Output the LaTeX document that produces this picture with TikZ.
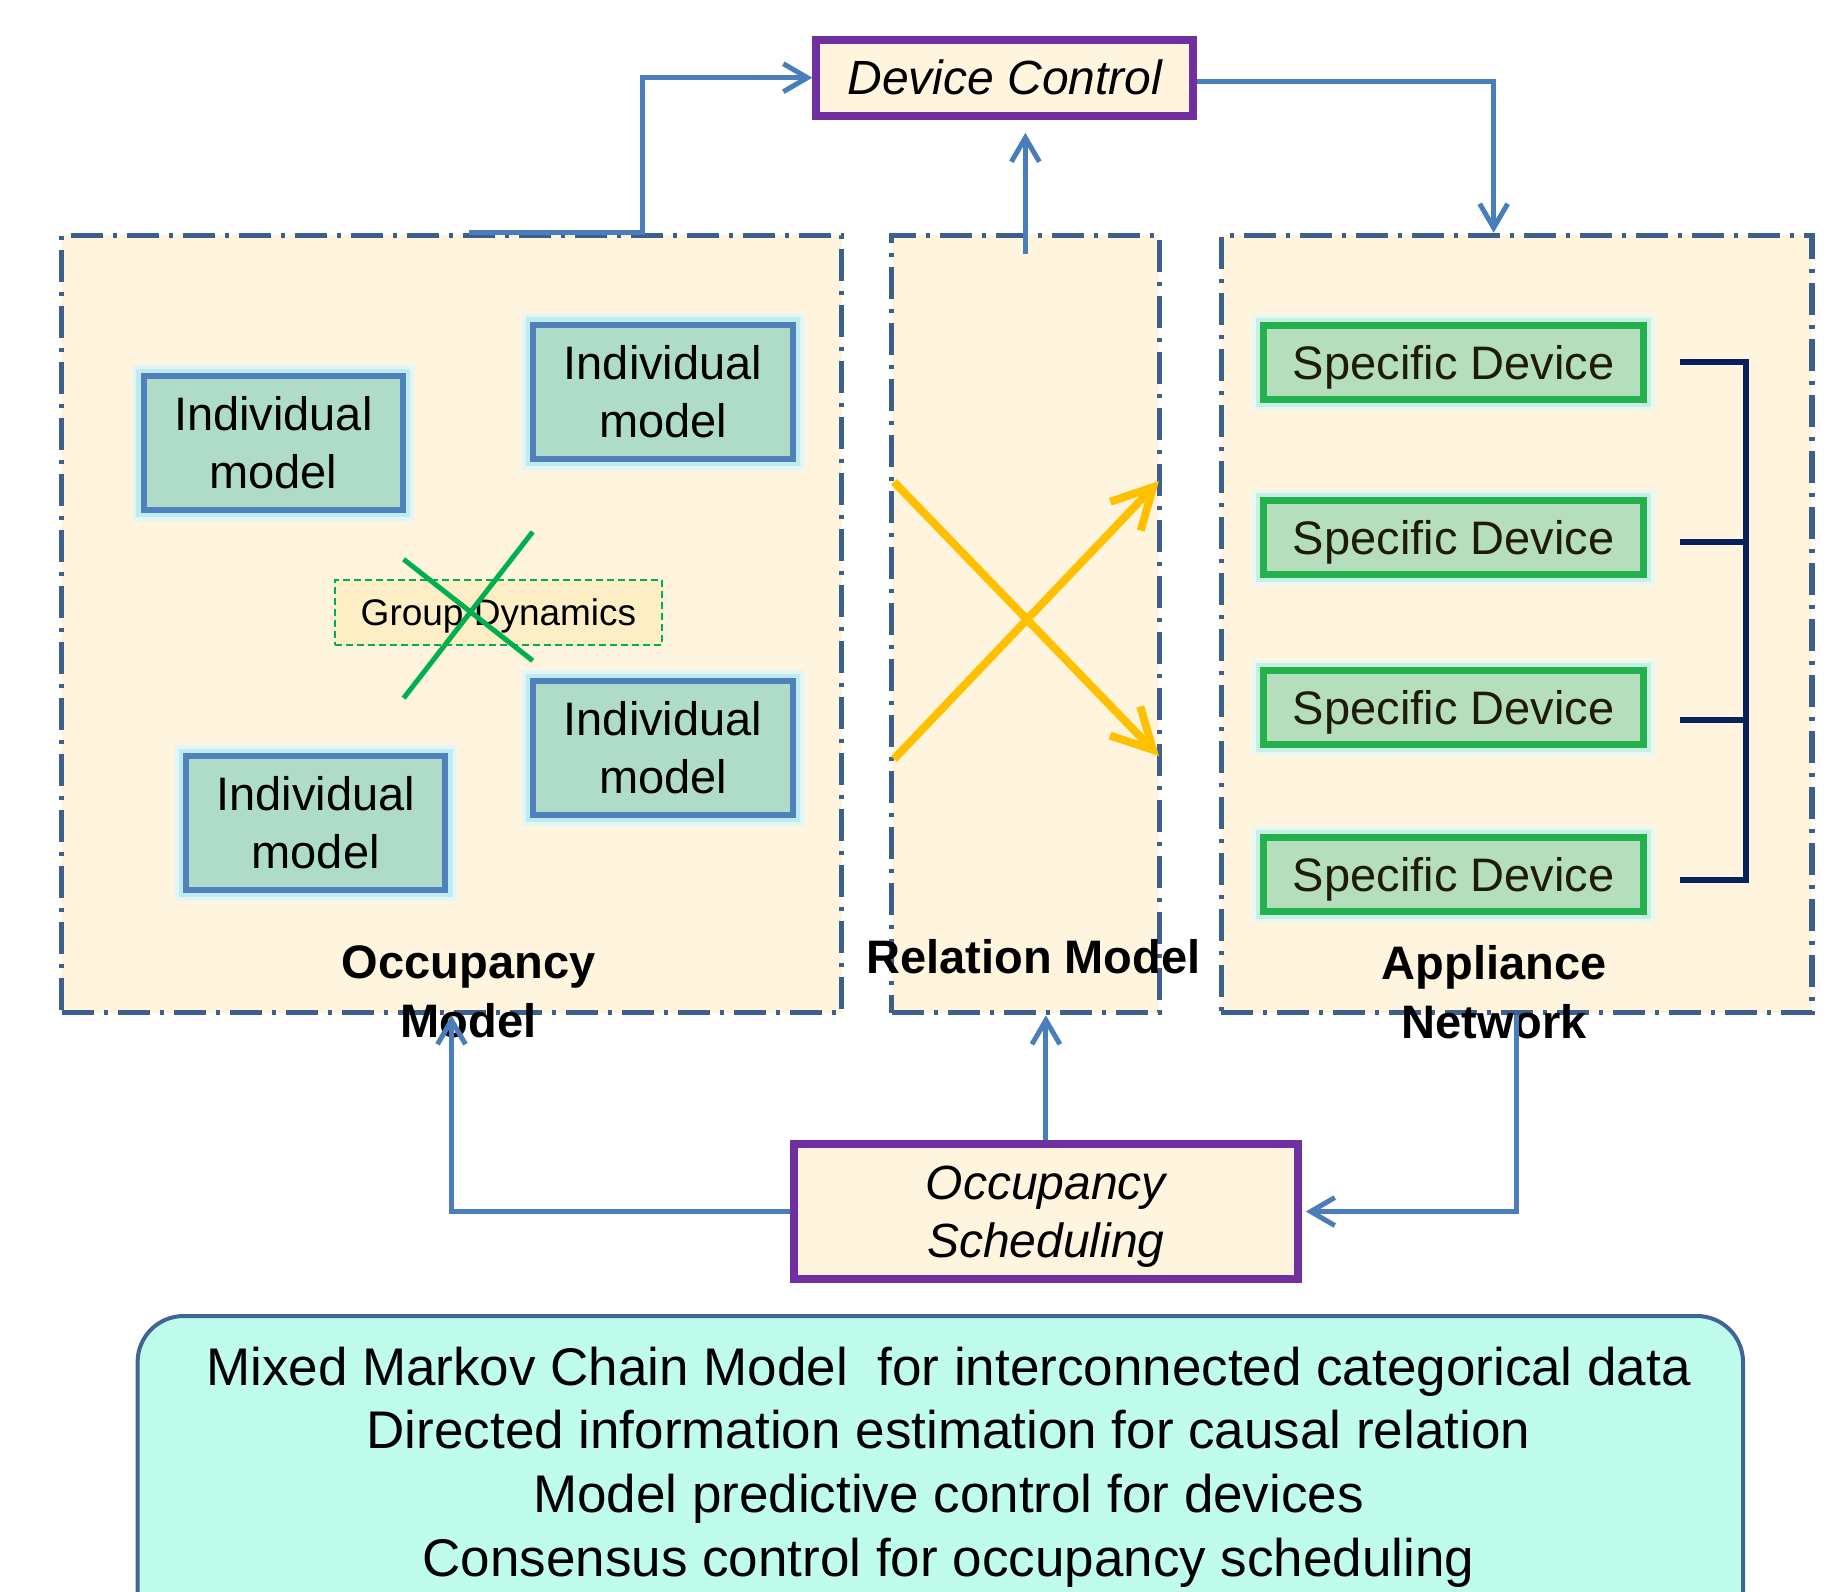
\documentclass[tikz,border=0pt]{standalone}
\usepackage{fontspec}
\setmainfont{Liberation Sans}
\usetikzlibrary{arrows.meta,calc}

\definecolor{cream}{HTML}{FFF5DF}
\definecolor{frameblue}{HTML}{3D5F8C}
\definecolor{imfill}{HTML}{AEDCC9}
\definecolor{imborder}{HTML}{4F81BD}
\definecolor{glowc}{HTML}{BFECF0}
\definecolor{sdglow}{HTML}{C8EFE2}
\definecolor{sdfill}{HTML}{B5DEBD}
\definecolor{sdborder}{HTML}{22B14C}
\definecolor{purp}{HTML}{7030A0}
\definecolor{arrowblue}{HTML}{4A7EBB}
\definecolor{yell}{HTML}{FFC000}
\definecolor{xgreen}{HTML}{00B050}
\definecolor{navy}{HTML}{0A205E}
\definecolor{gdfill}{HTML}{FDEEC6}
\definecolor{mint}{HTML}{C0FCEB}
\definecolor{mintborder}{HTML}{3F6495}
\definecolor{sdtext}{HTML}{1E1A0C}

\tikzset{
  frame/.style={draw=frameblue, line width=2.6pt, fill=cream,
    dash pattern=on 16pt off 5pt on 2pt off 5pt, inner sep=0pt,
    minimum height=388.7pt},
  imbox/.style={draw=imborder, fill=imfill, line width=3pt,
    minimum width=129.6pt, minimum height=66.8pt, inner sep=0pt, align=center,
    font=\fontsize{23.5pt}{29pt}\selectfont,
    preaction={draw=glowc!45, line width=11pt},
    preaction={draw=glowc, line width=7.5pt}},
  sdbox/.style={draw=sdborder, fill=sdfill, line width=3.5pt,
    minimum width=190.3pt, minimum height=36.8pt, inner sep=0pt,
    font=\fontsize{23.5pt}{28pt}\selectfont, text=sdtext,
    text height=16.8pt, text depth=0pt,
    preaction={draw=sdglow!45, line width=11pt},
    preaction={draw=sdglow, line width=7.5pt}},
  ctrlbox/.style={draw=purp, fill=cream, line width=4pt, inner sep=0pt,
    font=\itshape\fontsize{24pt}{29pt}\selectfont, align=center},
  gdbox/.style={draw=xgreen, fill=gdfill, line width=0.9pt,
    dash pattern=on 3.5pt off 2pt, minimum width=163.5pt,
    minimum height=32.5pt, inner sep=0pt,
    font=\fontsize{18.5pt}{22pt}\selectfont, text height=13.3pt, text depth=0pt},
  lbl/.style={font=\bfseries\fontsize{23.5pt}{29.5pt}\selectfont, align=center, inner sep=0pt},
  conn/.style={draw=arrowblue, line width=2.5pt,
    -{Straight Barb[length=12pt,width=14pt]}},
  yarrow/.style={draw=yell, line width=4pt,
    -{Straight Barb[length=20pt,width=21pt]}},
  xline/.style={draw=xgreen, line width=2.5pt},
  brk/.style={draw=navy, line width=3pt},
  methods/.style={font=\fontsize{26.5pt}{31.9pt}\selectfont, align=center, inner sep=0pt}
}

\begin{document}
\begin{tikzpicture}[x=0.5pt,y=-0.5pt]
\useasboundingbox (0,0) rectangle (1845,1591);
\clip (0,0) rectangle (1845,1591);

% containers
\node[frame, minimum width=390pt] (occ) at (451.5,624) {};
\node[frame, minimum width=133.85pt] (rel) at (1025.35,624) {};
\node[frame, minimum width=295.35pt] (app) at (1516.65,624) {};

% control boxes
\node[ctrlbox, minimum width=188.5pt, minimum height=38.1pt,
      text height=17.2pt, text depth=0pt] (dc) at (1004.8,77.7) {Device Control};
\node[ctrlbox, minimum width=251.9pt, minimum height=67.5pt, text depth=0pt] (os) at (1045.9,1211.5) {Occupancy\\Scheduling};

% individual models
\node[imbox] (im1) at (273.3,443) {Individual\\model};
\node[imbox] (im2) at (663,391.7) {Individual\\model};
\node[imbox] (im3) at (663,747.8) {Individual\\model};
\node[imbox] (im4) at (315.7,822.8) {Individual\\model};

% group dynamics
\node[gdbox] (gd) at (498.5,612.5) {Group Dynamics};
\coordinate (xa1) at (403.6,559.3);
\coordinate (xa2) at (532.7,660.7);
\coordinate (xb1) at (532.7,531.8);
\coordinate (xb2) at (403.6,698.2);
\draw[xline] (xa1) -- (xa2);
\draw[xline] (xb1) -- (xb2);

% relation arrows
\coordinate (ys1) at (894,482);
\coordinate (ye1) at (1159,756);
\coordinate (ys2) at (894,759);
\coordinate (ye2) at (1159,481);
\draw[yarrow] (ys1) -- (ye1);
\draw[yarrow] (ys2) -- (ye2);

% specific devices
\node[sdbox] (sd1) at (1453.6,362.4) {Specific Device};
\node[sdbox] (sd2) at (1453.6,537.3) {Specific Device};
\node[sdbox] (sd3) at (1453.6,707.3) {Specific Device};
\node[sdbox] (sd4) at (1453.6,874.5) {Specific Device};

\draw[brk] ($(sd1.east)+(33,0)$) -| ($(sd4.east)+(99,5.5)$) -- ($(sd4.east)+(33,5.5)$);
\draw[brk] ($(sd2.east)+(33,4.7)$) -- ($(sd2.east)+(99,4.7)$);
\draw[brk] ($(sd3.east)+(33,12.7)$) -- ($(sd3.east)+(99,12.7)$);

% labels
\node[lbl] (occlbl) at (468.6,991.7) {Occupancy\\Model};
\node[lbl, text height=16.8pt, text depth=0pt] (rellbl) at (1033.5,956.3) {Relation Model};
\node[lbl] (applbl) at (1494,992.5) {Appliance\\Network};

% connectors
\draw[conn] ($(occ.north)+(17,0)$) -- ++(174,0) |- (dc.west);
\draw[conn, shorten >=6.5pt] ($(rel.north)+(0,21)$) -- (rel.north |- dc.south);
\draw[conn] ($(dc.east)+(0,4)$) -| ($(app.north)+(-23,0)$);
\draw[conn] (os.west) -| (occ.south);
\draw[conn] (os.north) -- (os.north |- rel.south);
\draw[conn, shorten >=2pt] (app.south) |- (os.east);

% methods box
\path[draw=mintborder, fill=mint, line width=2pt, rounded corners=23pt]
  (137.6,1316) rectangle (1743,1680);
\node[methods] (meth) at (948.5,1467) {Mixed Markov Chain Model~ for interconnected categorical data\\
Directed information estimation for causal relation\\
Model predictive control for devices\\
Consensus control for occupancy scheduling};
\end{tikzpicture}
\end{document}
